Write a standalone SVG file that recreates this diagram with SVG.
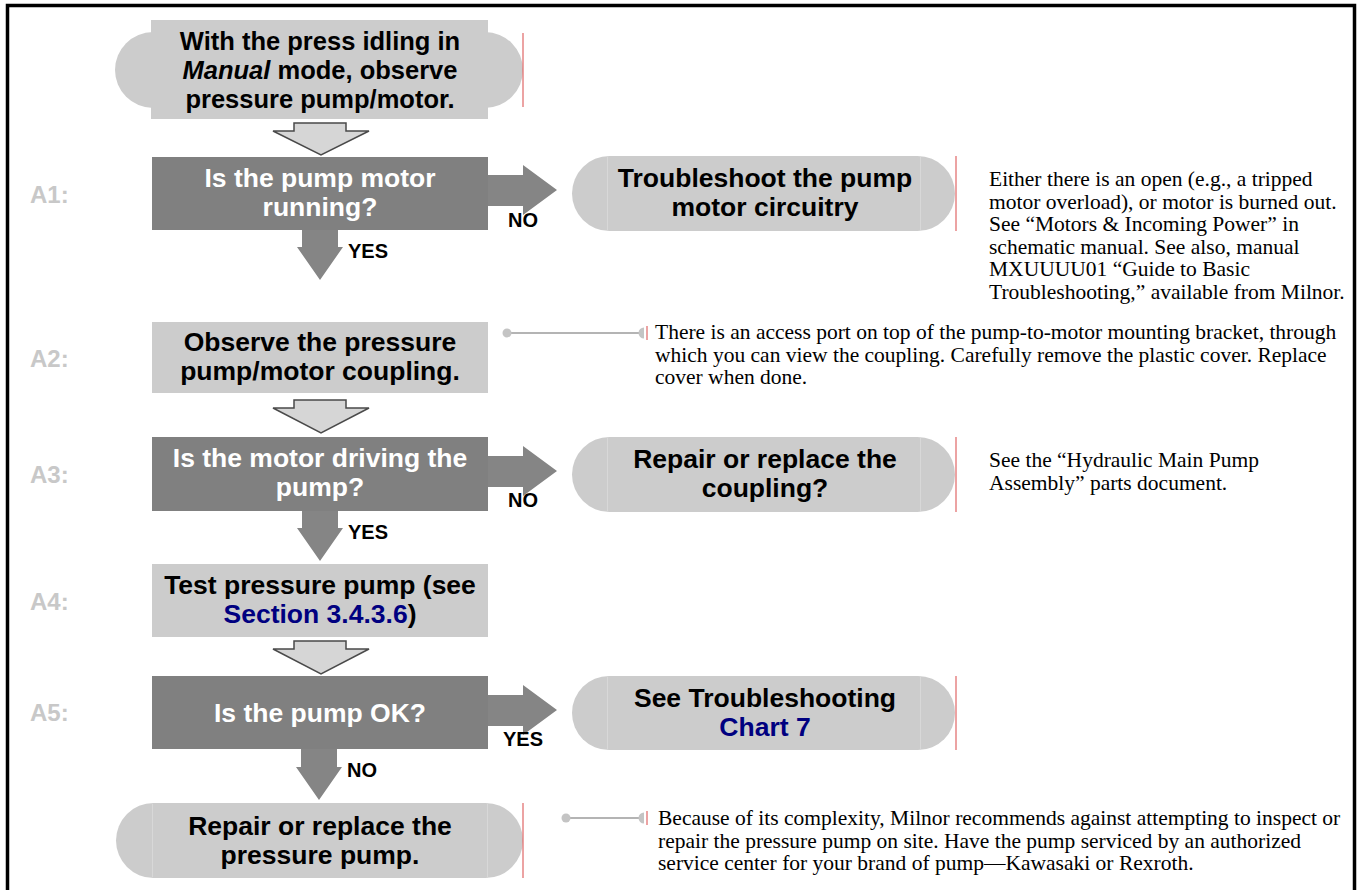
<svg xmlns="http://www.w3.org/2000/svg" width="1359" height="890" viewBox="0 0 1359 890">
<style>
.nt{font-family:"Liberation Sans",Arial,sans-serif;font-weight:bold;font-size:26.5px;text-anchor:middle;fill:#000}
.top{font-size:25.5px}
.wt{fill:#fff}
.lnk{fill:#000080}
.light{fill:#cccccc}
.dark{fill:#808080}
.lbl{font-family:"Liberation Sans",Arial,sans-serif;font-weight:bold;font-size:24px;fill:#c8c8c8}
.el{font-family:"Liberation Sans",Arial,sans-serif;font-weight:bold;font-size:20px;fill:#000}
.note{font-family:"Liberation Serif","Times New Roman",serif;font-size:21.5px;fill:#000}
.hollow{fill:#d6d6d6;stroke:#4a4a4a;stroke-width:1.5;stroke-linejoin:miter}
.solid{fill:#858585}
.red{stroke:#e06666;stroke-width:1.2}
.seam{stroke:#d8d8d8;stroke-width:1}
.cl{stroke:#b4b4b4;stroke-width:2}
.cd{fill:#c4c4c4}
</style>
<rect x="0" y="0" width="1359" height="890" fill="#fff"/>
<rect x="7.5" y="5.5" width="1347" height="900" fill="none" stroke="#000" stroke-width="3.5"/>

<g id="labels">
<text class="lbl" x="30" y="203">A1:</text>
<text class="lbl" x="30" y="367">A2:</text>
<text class="lbl" x="30" y="483">A3:</text>
<text class="lbl" x="30" y="610">A4:</text>
<text class="lbl" x="30" y="721">A5:</text>
</g>

<g id="connectors">
<polygon class="hollow" points="294,123 346,123 346,131 369,131 321,155 273,131 294,131"/>
<polygon class="hollow" points="294,400 346,400 346,408 369,408 321,433 273,408 294,408"/>
<polygon class="hollow" points="294,641 346,641 346,649 369,649 321,674 273,649 294,649"/>
<polygon class="solid" points="302,229 338,229 338,247 343,247 320,280 297,247 302,247"/>
<polygon class="solid" points="302,510 338,510 338,528 343,528 320,561 297,528 302,528"/>
<polygon class="solid" points="301,748 337,748 337,767 342,767 319,800 296,767 301,767"/>
<polygon class="solid" points="487,175 523,175 523,165 557,190 523,215 523,206 487,206"/>
<polygon class="solid" points="487,456 523,456 523,446 557,471 523,496 523,487 487,487"/>
<polygon class="solid" points="487,695 523,695 523,685 557,710 523,735 523,726 487,726"/>
<text class="el" x="508" y="227">NO</text>
<text class="el" x="348" y="258">YES</text>
<text class="el" x="508" y="507">NO</text>
<text class="el" x="348" y="539">YES</text>
<text class="el" x="503" y="746">YES</text>
<text class="el" x="347" y="777">NO</text>
<g id="callout-a2">
<line class="cl" x1="507" y1="333" x2="641" y2="333"/>
<circle class="cd" cx="507" cy="333" r="4.5"/>
<path class="cd" d="M644,327.5 A5.5,5.5 0 0 0 644,338.5 Z"/>
<line class="red" x1="647" y1="326" x2="647" y2="340"/>
</g>
<g id="callout-final">
<line class="cl" x1="566" y1="818" x2="641" y2="818"/>
<circle class="cd" cx="566" cy="818" r="4.5"/>
<path class="cd" d="M644,812.5 A5.5,5.5 0 0 0 644,823.5 Z"/>
<line class="red" x1="647" y1="811" x2="647" y2="825"/>
</g>
</g>

<g id="start">
<rect class="light" x="115" y="32" width="408" height="76" rx="38" ry="38"/>
<rect class="light" x="151" y="20" width="337" height="99"/>
<line class="red" x1="523" y1="33" x2="523" y2="107"/>
<text class="nt top" x="320" y="50">With the press idling in</text>
<text class="nt top" x="320" y="79"><tspan font-style="italic">Manual</tspan> mode, observe</text>
<text class="nt top" x="320" y="108">pressure pump/motor.</text>
</g>

<g id="A1">
<rect class="dark" x="152" y="157" width="336" height="73"/>
<text class="nt wt" x="320" y="187">Is the pump motor</text>
<text class="nt wt" x="320" y="216">running?</text>
</g>

<g id="motor-circuitry">
<rect class="light" x="572" y="156" width="383" height="75" rx="37.5" ry="37.5"/>
<line class="seam" x1="607.5" y1="157" x2="607.5" y2="230"/>
<line class="seam" x1="920.5" y1="157" x2="920.5" y2="230"/>
<line class="red" x1="956" y1="156" x2="956" y2="231"/>
<text class="nt" x="765" y="187">Troubleshoot the pump</text>
<text class="nt" x="765" y="216">motor circuitry</text>
</g>

<g id="note-a1">
<text class="note" x="989" y="186">Either there is an open (e.g., a tripped</text>
<text class="note" x="989" y="208.5">motor overload), or motor is burned out.</text>
<text class="note" x="989" y="231">See “Motors &amp; Incoming Power” in</text>
<text class="note" x="989" y="253.5">schematic manual. See also, manual</text>
<text class="note" x="989" y="276">MXUUUU01 “Guide to Basic</text>
<text class="note" x="989" y="298.5">Troubleshooting,” available from Milnor.</text>
</g>

<g id="A2">
<rect class="light" x="152" y="322" width="336" height="71"/>
<text class="nt" x="320" y="351">Observe the pressure</text>
<text class="nt" x="320" y="380">pump/motor coupling.</text>
</g>

<g id="note-a2">
<text class="note" x="655" y="339">There is an access port on top of the pump-to-motor mounting bracket, through</text>
<text class="note" x="655" y="361.5">which you can view the coupling. Carefully remove the plastic cover. Replace</text>
<text class="note" x="655" y="384">cover when done.</text>
</g>

<g id="A3">
<rect class="dark" x="152" y="437" width="336" height="74"/>
<text class="nt wt" x="320" y="467">Is the motor driving the</text>
<text class="nt wt" x="320" y="496">pump?</text>
</g>

<g id="repair-coupling">
<rect class="light" x="572" y="437" width="383" height="75" rx="37.5" ry="37.5"/>
<line class="seam" x1="607.5" y1="438" x2="607.5" y2="511"/>
<line class="seam" x1="920.5" y1="438" x2="920.5" y2="511"/>
<line class="red" x1="956" y1="437" x2="956" y2="512"/>
<text class="nt" x="765" y="468">Repair or replace the</text>
<text class="nt" x="765" y="497">coupling?</text>
</g>

<g id="note-a3">
<text class="note" x="989" y="467">See the “Hydraulic Main Pump</text>
<text class="note" x="989" y="489.5">Assembly” parts document.</text>
</g>

<g id="A4">
<rect class="light" x="152" y="564" width="336" height="73"/>
<text class="nt" x="320" y="594">Test pressure pump (see</text>
<text class="nt" x="320" y="623"><tspan class="lnk">Section 3.4.3.6</tspan>)</text>
</g>

<g id="A5">
<rect class="dark" x="152" y="676" width="336" height="73"/>
<text class="nt wt" x="320" y="722">Is the pump OK?</text>
</g>

<g id="chart7">
<rect class="light" x="572" y="676" width="383" height="74" rx="37" ry="37"/>
<line class="seam" x1="607.5" y1="677" x2="607.5" y2="749"/>
<line class="seam" x1="920.5" y1="677" x2="920.5" y2="749"/>
<line class="red" x1="956" y1="676" x2="956" y2="750"/>
<text class="nt" x="765" y="707">See Troubleshooting</text>
<text class="nt lnk" x="765" y="736">Chart 7</text>
</g>

<g id="repair-pump">
<rect class="light" x="116" y="803" width="407" height="75" rx="37.5" ry="37.5"/>
<line class="seam" x1="152.5" y1="804" x2="152.5" y2="877"/>
<line class="seam" x1="487.5" y1="804" x2="487.5" y2="877"/>
<line class="red" x1="523" y1="803" x2="523" y2="878"/>
<text class="nt" x="320" y="835">Repair or replace the</text>
<text class="nt" x="320" y="864">pressure pump.</text>
</g>

<g id="note-final">
<text class="note" x="658" y="825">Because of its complexity, Milnor recommends against attempting to inspect or</text>
<text class="note" x="658" y="847.5">repair the pressure pump on site. Have the pump serviced by an authorized</text>
<text class="note" x="658" y="870">service center for your brand of pump—Kawasaki or Rexroth.</text>
</g>
</svg>
